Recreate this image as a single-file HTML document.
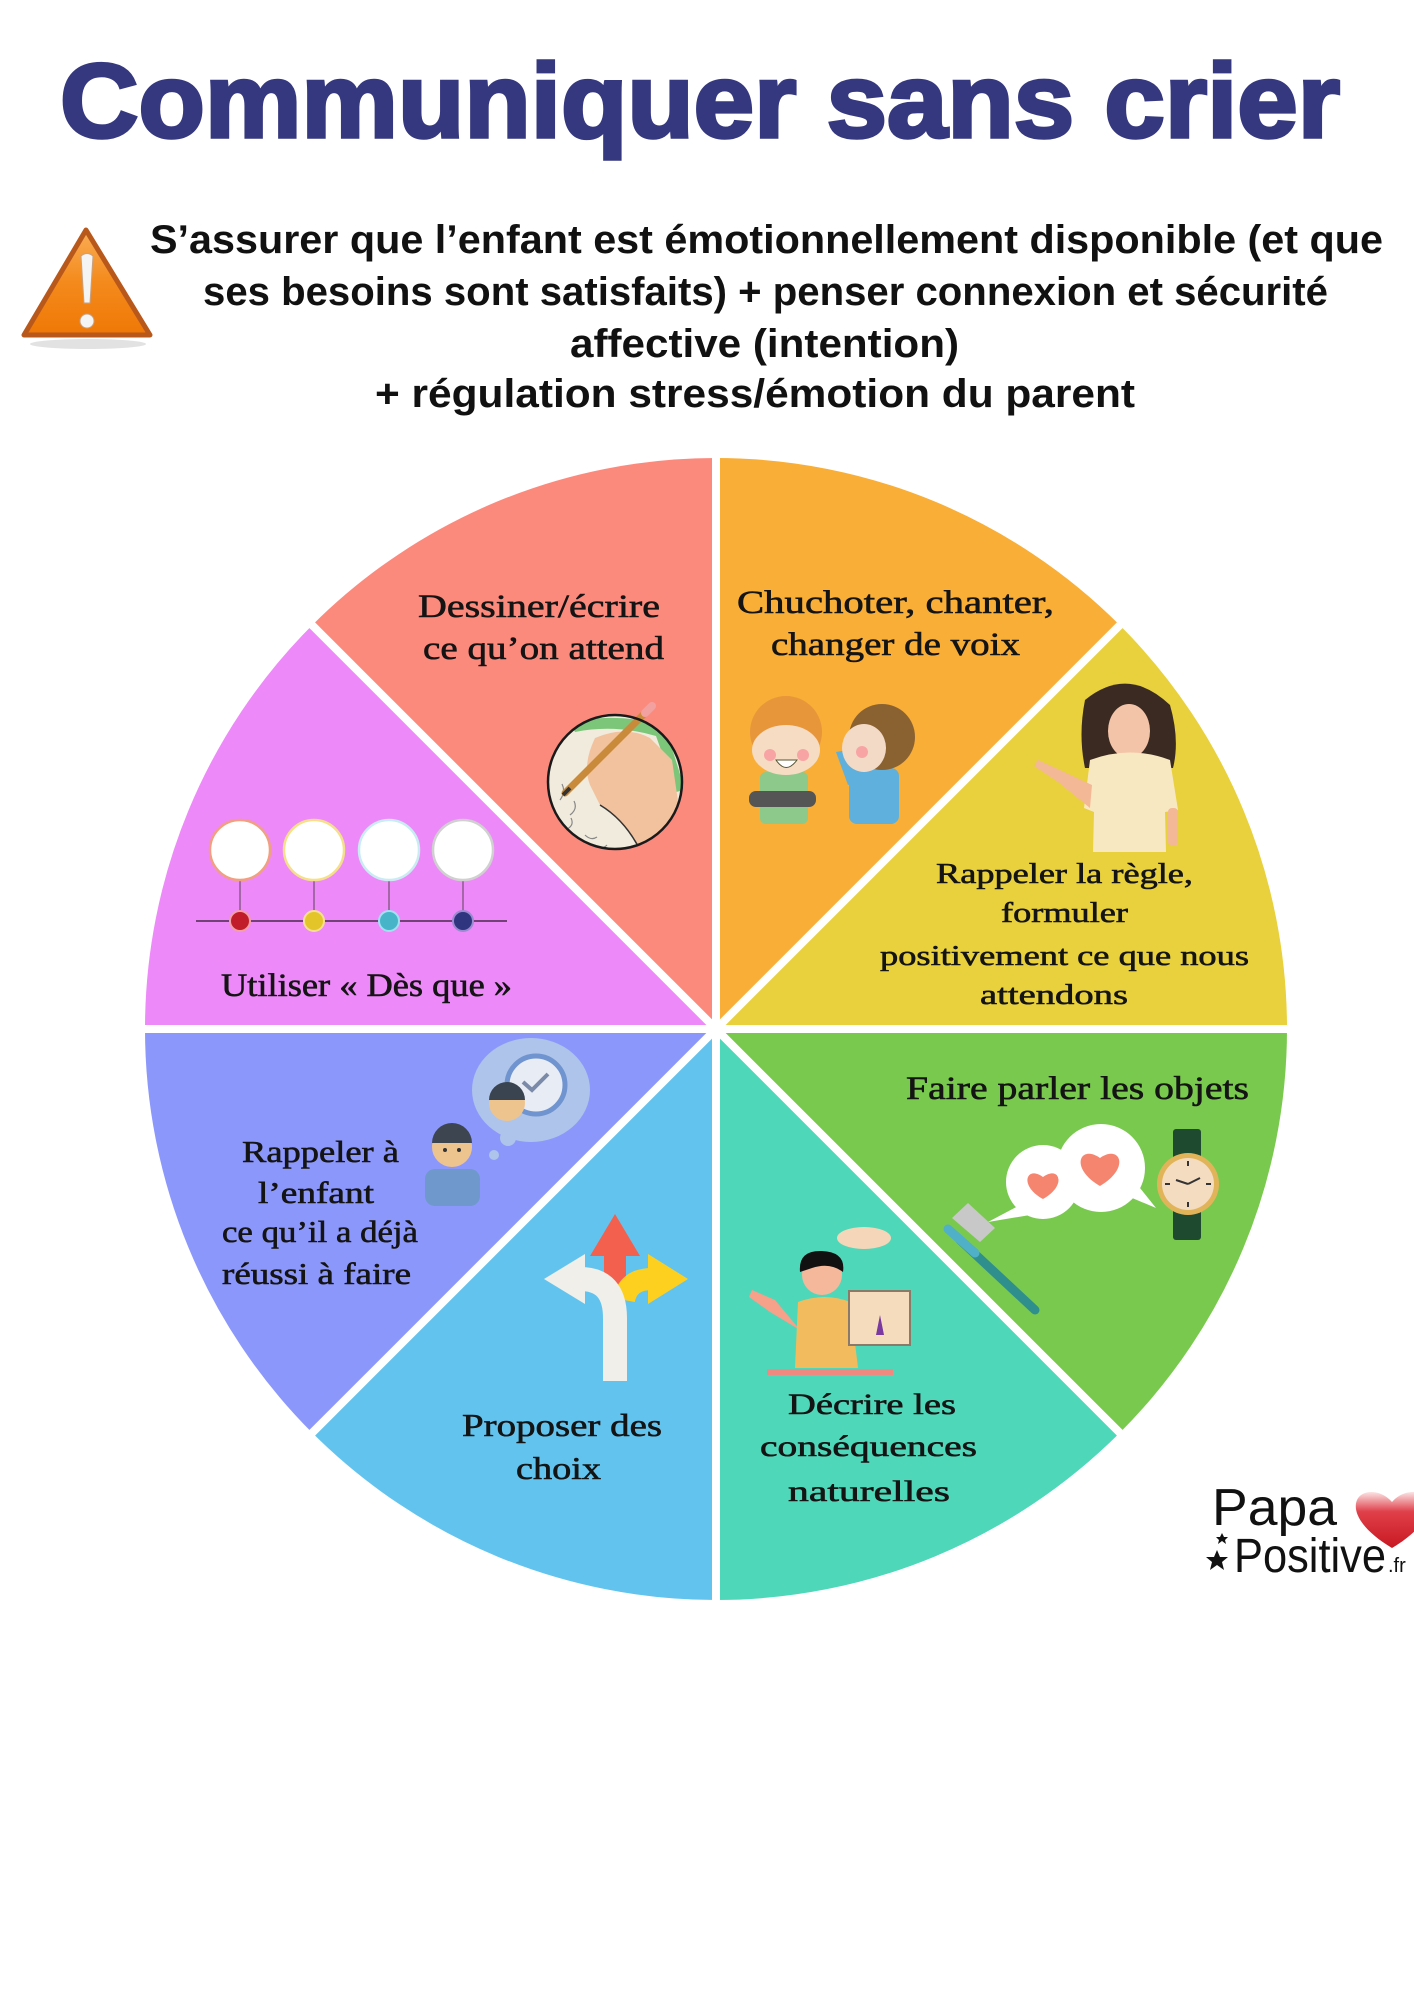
<!DOCTYPE html>
<html><head><meta charset="utf-8"><style>
html,body{margin:0;padding:0;background:#fff;}
svg{display:block;}
.s{font-family:"Liberation Serif",serif;fill:#141414;stroke:#141414;stroke-width:0.6;}
</style></head><body>
<svg width="1414" height="2000" viewBox="0 0 1414 2000" xmlns="http://www.w3.org/2000/svg">
<defs>
<linearGradient id="tri" x1="0" y1="0" x2="0" y2="1">
<stop offset="0" stop-color="#f9ad55"/><stop offset="0.5" stop-color="#f48a1c"/><stop offset="1" stop-color="#ef7806"/></linearGradient>
<linearGradient id="hg" x1="0" y1="0" x2="0" y2="1">
<stop offset="0" stop-color="#fbe3e3"/><stop offset="0.35" stop-color="#e0404a"/><stop offset="1" stop-color="#c81822"/></linearGradient>
<clipPath id="hc"><circle cx="615" cy="782" r="66"/></clipPath>
</defs>
<rect width="1414" height="2000" fill="#fff"/>

<!-- Title -->
<text x="60" y="137" font-family="Liberation Sans" font-weight="bold" font-size="105" fill="#35387e" stroke="#35387e" stroke-width="3.5" textLength="1280" lengthAdjust="spacingAndGlyphs">Communiquer sans crier</text>

<!-- Warning -->
<ellipse cx="88" cy="344" rx="58" ry="5" fill="#cfcfcf" opacity="0.6"/>
<path d="M86,230 L24,335 L150,335 Z" fill="url(#tri)" stroke="#b9581b" stroke-width="5" stroke-linejoin="round"/>
<path d="M81,256 Q87,251 93,256 L90,303 L84,303 Z" fill="#f4f4f4" stroke="#c9a080" stroke-width="1"/>
<circle cx="87" cy="321" r="7" fill="#f4f4f4" stroke="#c9a080" stroke-width="1"/>

<!-- Subtitle -->
<g font-family="Liberation Sans" font-weight="bold" font-size="40" fill="#111">
<text x="150" y="253" textLength="1233" lengthAdjust="spacingAndGlyphs">S’assurer que l’enfant est émotionnellement disponible (et que</text>
<text x="203" y="305" textLength="1125" lengthAdjust="spacingAndGlyphs">ses besoins sont satisfaits) + penser connexion et sécurité</text>
<text x="570" y="357" textLength="389" lengthAdjust="spacingAndGlyphs">affective (intention)</text>
<text x="375" y="407" textLength="760" lengthAdjust="spacingAndGlyphs">+ régulation stress/émotion du parent</text>
</g>

<!-- Wheel -->
<path d="M716,1029 L716,458 A571,571 0 0 1 1119.8,625.2 Z" fill="#f8ae37"/>
<path d="M716,1029 L1119.8,625.2 A571,571 0 0 1 1287,1029 Z" fill="#e8d13c"/>
<path d="M716,1029 L1287,1029 A571,571 0 0 1 1119.8,1432.8 Z" fill="#7ac94f"/>
<path d="M716,1029 L1119.8,1432.8 A571,571 0 0 1 716,1600 Z" fill="#4fd7b9"/>
<path d="M716,1029 L716,1600 A571,571 0 0 1 312.2,1432.8 Z" fill="#62c4ee"/>
<path d="M716,1029 L312.2,1432.8 A571,571 0 0 1 145,1029 Z" fill="#8c97fb"/>
<path d="M716,1029 L145,1029 A571,571 0 0 1 312.2,625.2 Z" fill="#ed89f8"/>
<path d="M716,1029 L312.2,625.2 A571,571 0 0 1 716,458 Z" fill="#fb8a7d"/>
<g stroke="#fff" stroke-width="8">
<line x1="716" y1="440" x2="716" y2="1620"/>
<line x1="125" y1="1029" x2="1307" y2="1029"/>
<line x1="298" y1="611" x2="1134" y2="1447"/>
<line x1="1134" y1="611" x2="298" y2="1447"/>
</g>
<circle cx="716" cy="1029" r="8" fill="#fff"/>

<!-- Salmon: Dessiner -->
<text class="s" x="418" y="617" font-size="33" textLength="242" lengthAdjust="spacingAndGlyphs">Dessiner/écrire</text>
<text class="s" x="423" y="659" font-size="33" textLength="241" lengthAdjust="spacingAndGlyphs">ce qu’on attend</text>
<circle cx="615" cy="782" r="67" fill="#f0ebdd"/>
<g clip-path="url(#hc)">
<path d="M570,722 Q620,712 665,726 L685,790 L676,792 L656,736 Q615,724 575,732 Z" fill="#7cc67a"/>
<path d="M595,738 Q625,725 650,738 L672,760 L680,815 L670,850 L640,850 Q625,820 600,805 L590,785 Q582,765 595,738 Z" fill="#f2c29e"/>
<path d="M600,805 Q625,820 640,850" fill="none" stroke="#333" stroke-width="1.5"/>
<path d="M560,800 q6,-8 2,-16 M570,815 q8,-6 4,-14 M565,830 q10,-4 6,-12 M585,835 q6,6 12,2 M595,845 q6,6 12,0" fill="none" stroke="#888" stroke-width="1.2"/>
</g>
<line x1="565" y1="793" x2="650" y2="708" stroke="#c98a3a" stroke-width="7" stroke-linecap="round"/>
<line x1="645" y1="713" x2="652" y2="706" stroke="#f3a0a0" stroke-width="8" stroke-linecap="round"/>
<line x1="563" y1="795" x2="570" y2="788" stroke="#333" stroke-width="4"/>
<circle cx="615" cy="782" r="67" fill="none" stroke="#1a1a1a" stroke-width="2.5"/>

<!-- Orange: Chuchoter -->
<text class="s" x="737" y="613" font-size="33" textLength="317" lengthAdjust="spacingAndGlyphs">Chuchoter, chanter,</text>
<text class="s" x="771" y="655" font-size="33" textLength="249" lengthAdjust="spacingAndGlyphs">changer de voix</text>
<rect x="760" y="772" width="48" height="52" rx="6" fill="#8dc98a"/>
<rect x="749" y="791" width="67" height="16" rx="7" fill="#555"/>
<circle cx="786" cy="732" r="36" fill="#e8963a"/>
<ellipse cx="786" cy="750" rx="34" ry="25" fill="#f6dcc3"/>
<circle cx="770" cy="755" r="6" fill="#f8a4a4"/>
<circle cx="803" cy="755" r="6" fill="#f8a4a4"/>
<path d="M776,760 Q786,775 797,760 Z" fill="#fff" stroke="#553" stroke-width="1"/>
<rect x="849" y="768" width="50" height="56" rx="8" fill="#5fb0dc"/>
<path d="M836,752 L848,785 L858,780 L848,750 Z" fill="#5fb0dc"/>
<circle cx="882" cy="737" r="33" fill="#8a6232"/>
<ellipse cx="864" cy="748" rx="22" ry="24" fill="#f3dac6"/>
<circle cx="862" cy="752" r="6" fill="#f8a4a4"/>

<!-- Yellow: Rappeler la règle -->
<path d="M1085,700 Q1128,665 1170,705 Q1180,740 1173,768 L1085,768 Q1078,735 1085,700 Z" fill="#3a2a22"/>
<ellipse cx="1129" cy="731" rx="21" ry="27" fill="#f3c4a8"/>
<path d="M1090,760 Q1130,745 1170,760 L1178,810 L1165,812 L1166,852 L1093,852 L1094,812 L1084,808 Z" fill="#f8e8c2"/>
<path d="M1092,785 L1060,770 L1038,760 L1034,766 L1058,782 L1090,808 Z" fill="#f3b896"/>
<rect x="1168" y="808" width="10" height="38" rx="4" fill="#f3b896"/>
<text class="s" x="936" y="883" font-size="29" textLength="257" lengthAdjust="spacingAndGlyphs">Rappeler la règle,</text>
<text class="s" x="1001" y="922" font-size="29" textLength="127" lengthAdjust="spacingAndGlyphs">formuler</text>
<text class="s" x="880" y="965" font-size="29" textLength="369" lengthAdjust="spacingAndGlyphs">positivement ce que nous</text>
<text class="s" x="980" y="1004" font-size="29" textLength="148" lengthAdjust="spacingAndGlyphs">attendons</text>

<!-- Pink: Utiliser Dès que -->
<line x1="196" y1="921" x2="507" y2="921" stroke="#4a2a4a" stroke-width="1.5"/>
<g stroke="#8a5a8a" stroke-width="1.5">
<line x1="240" y1="880" x2="240" y2="912"/><line x1="314" y1="880" x2="314" y2="912"/>
<line x1="389" y1="880" x2="389" y2="912"/><line x1="463" y1="880" x2="463" y2="912"/>
</g>
<g fill="#fff" stroke-width="2.5">
<circle cx="240" cy="850" r="30" stroke="#f0a080"/>
<circle cx="314" cy="850" r="30" stroke="#f5e08a"/>
<circle cx="389" cy="850" r="30" stroke="#c9ecf2"/>
<circle cx="463" cy="850" r="30" stroke="#d0d0d0"/>
</g>
<circle cx="240" cy="921" r="10" fill="#c01c2a" stroke="#f2a0a8" stroke-width="2"/>
<circle cx="314" cy="921" r="10" fill="#e3c52a" stroke="#f5e090" stroke-width="2"/>
<circle cx="389" cy="921" r="10" fill="#48b4c8" stroke="#a0e0f0" stroke-width="2"/>
<circle cx="463" cy="921" r="10" fill="#2f357e" stroke="#9a8ad0" stroke-width="2"/>
<text class="s" x="221" y="996" font-size="33" textLength="291" lengthAdjust="spacingAndGlyphs">Utiliser « Dès que »</text>

<!-- Periwinkle: Rappeler à l'enfant -->
<ellipse cx="531" cy="1090" rx="59" ry="52" fill="#aec4ea"/>
<circle cx="508" cy="1138" r="8" fill="#aec4ea"/>
<circle cx="494" cy="1155" r="5" fill="#aec4ea"/>
<circle cx="536" cy="1085" r="29" fill="#e8ecf4" stroke="#6f94cf" stroke-width="5"/>
<polyline points="523,1082 532,1090 548,1074" fill="none" stroke="#7a8aa8" stroke-width="4"/>
<circle cx="507" cy="1103" r="18" fill="#eec48e"/>
<path d="M489,1100 A18,18 0 0 1 525,1100 Z" fill="#3a4450"/>
<rect x="425" y="1169" width="55" height="37" rx="10" fill="#6f98cc"/>
<circle cx="452" cy="1147" r="20" fill="#eec48e"/>
<path d="M432,1143 A20,20 0 0 1 472,1143 Z" fill="#3c4550"/>
<circle cx="445" cy="1150" r="2" fill="#333"/><circle cx="459" cy="1150" r="2" fill="#333"/>
<text class="s" x="242" y="1162" font-size="31" textLength="157" lengthAdjust="spacingAndGlyphs">Rappeler à</text>
<text class="s" x="258" y="1203" font-size="31" textLength="116" lengthAdjust="spacingAndGlyphs">l’enfant</text>
<text class="s" x="222" y="1242" font-size="31" textLength="196" lengthAdjust="spacingAndGlyphs">ce qu’il a déjà</text>
<text class="s" x="222" y="1284" font-size="31" textLength="189" lengthAdjust="spacingAndGlyphs">réussi à faire</text>

<!-- Blue: Proposer des choix -->
<rect x="604" y="1250" width="22" height="45" fill="#f4604e"/>
<polygon points="615,1214 590,1256 640,1256" fill="#f4604e"/>
<path d="M624,1300 Q628,1279 652,1279" fill="none" stroke="#fdd020" stroke-width="22"/>
<polygon points="688,1279 648,1254 648,1304" fill="#fdd020"/>
<path d="M615,1381 L615,1318 Q615,1279 580,1279" fill="none" stroke="#f0efe9" stroke-width="24"/>
<polygon points="544,1279 585,1254 585,1304" fill="#f0efe9"/>
<text class="s" x="462" y="1436" font-size="32" textLength="200" lengthAdjust="spacingAndGlyphs">Proposer des</text>
<text class="s" x="516" y="1479" font-size="32" textLength="85" lengthAdjust="spacingAndGlyphs">choix</text>

<!-- Green: Faire parler les objets -->
<text class="s" x="906" y="1099" font-size="33" textLength="343" lengthAdjust="spacingAndGlyphs">Faire parler les objets</text>
<line x1="960" y1="1240" x2="1035" y2="1310" stroke="#2f8f8c" stroke-width="9" stroke-linecap="round"/>
<line x1="948" y1="1229" x2="975" y2="1253" stroke="#4fb0c8" stroke-width="9" stroke-linecap="round"/>
<polygon points="952,1218 968,1203 995,1228 980,1242" fill="#c8c8c8"/>
<polygon points="1020,1205 988,1222 1036,1214" fill="#fff"/>
<circle cx="1043" cy="1182" r="37" fill="#fff"/>
<path d="M1043,1199 C1018,1185 1027,1165 1043,1177 C1059,1165 1068,1185 1043,1199 Z" fill="#f68570"/>
<polygon points="1125,1195 1156,1208 1132,1178" fill="#fff"/>
<circle cx="1101" cy="1168" r="44" fill="#fff"/>
<path d="M1100,1186 C1069,1168 1080,1144 1100,1158 C1120,1144 1131,1168 1100,1186 Z" fill="#f68570"/>
<rect x="1173" y="1129" width="28" height="111" rx="3" fill="#1e4a30"/>
<circle cx="1188" cy="1184" r="31" fill="#e2b45a"/>
<circle cx="1188" cy="1184" r="26" fill="#f4dcc0"/>
<g stroke="#333" stroke-width="2">
<line x1="1188" y1="1161" x2="1188" y2="1166"/><line x1="1188" y1="1202" x2="1188" y2="1207"/>
<line x1="1165" y1="1184" x2="1170" y2="1184"/><line x1="1206" y1="1184" x2="1211" y2="1184"/>
<line x1="1188" y1="1184" x2="1176" y2="1180"/><line x1="1188" y1="1184" x2="1200" y2="1178"/>
</g>

<!-- Teal: Décrire les conséquences -->
<ellipse cx="864" cy="1238" rx="27" ry="11" fill="#f6d6b8"/>
<path d="M775,1300 L752,1290 L749,1297 L770,1312 L800,1330 Z" fill="#f7a08a"/>
<path d="M798,1302 Q825,1292 850,1302 L858,1368 L795,1368 Z" fill="#f2bc5e"/>
<circle cx="822" cy="1275" r="20" fill="#f5b89a"/>
<path d="M800,1272 Q798,1250 822,1251 Q846,1252 843,1272 Q830,1262 812,1268 Z" fill="#111"/>
<rect x="849" y="1291" width="61" height="54" fill="#f5dcbc" stroke="#8a7a6a" stroke-width="2"/>
<path d="M876,1335 L880,1315 L884,1335 Z" fill="#7a3aa0"/>
<rect x="767" y="1369" width="126" height="6" fill="#f08a80"/>
<text class="s" x="788" y="1414" font-size="30" textLength="168" lengthAdjust="spacingAndGlyphs">Décrire les</text>
<text class="s" x="760" y="1456" font-size="30" textLength="217" lengthAdjust="spacingAndGlyphs">conséquences</text>
<text class="s" x="788" y="1501" font-size="30" textLength="162" lengthAdjust="spacingAndGlyphs">naturelles</text>

<!-- Logo -->
<text x="1212" y="1525" font-family="Liberation Sans" font-size="52" fill="#111" textLength="125" lengthAdjust="spacingAndGlyphs">Papa</text>
<text x="1234" y="1572" font-family="Liberation Sans" font-size="48" fill="#111" textLength="152" lengthAdjust="spacingAndGlyphs">Positive</text>
<text x="1388" y="1572" font-family="Liberation Sans" font-size="20" fill="#111">.fr</text>
<polygon points="1217,1550 1220,1557 1228,1557 1222,1562 1224,1570 1217,1565 1210,1570 1212,1562 1206,1557 1214,1557" fill="#111"/>
<polygon points="1222,1533 1224,1537 1228,1537 1225,1540 1226,1544 1222,1541 1218,1544 1219,1540 1216,1537 1220,1537" fill="#111"/>
<path d="M1392,1548 C1362,1530 1352,1512 1357,1500 C1362,1489 1381,1489 1392,1502 C1403,1489 1422,1489 1427,1500 C1432,1512 1422,1530 1392,1548 Z" fill="url(#hg)"/>
</svg>
</body></html>
